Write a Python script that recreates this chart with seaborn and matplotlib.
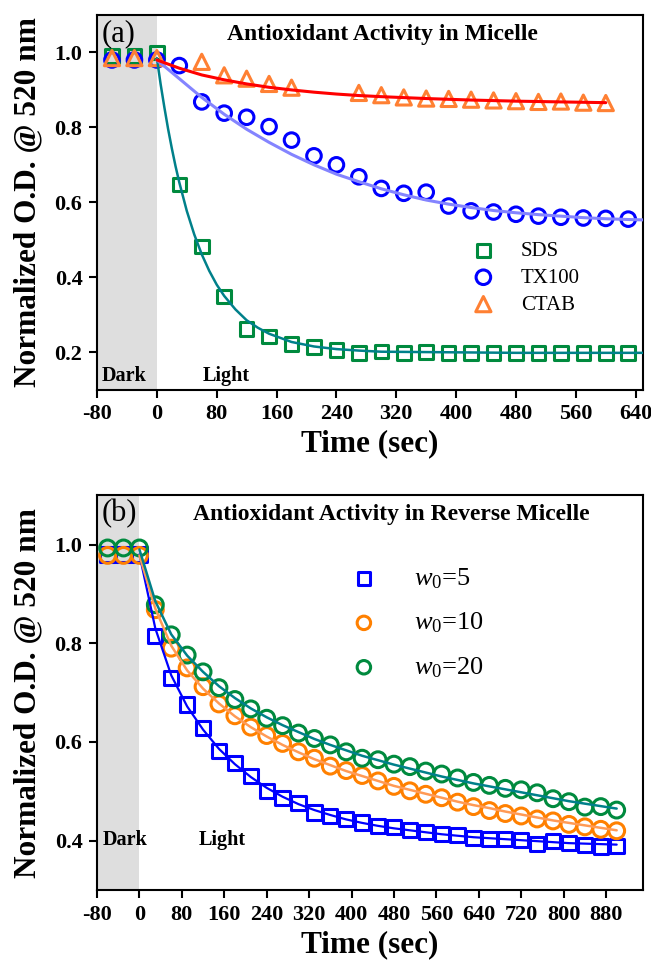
import matplotlib
matplotlib.use("Agg")
import matplotlib.pyplot as plt
import numpy as np
import seaborn as sns

# ---- panel (a): micelle ----
t_mic = [-60, -30, 0] + list(range(30, 631, 30))
sds = [0.99, 0.99, 1.0, 0.648, 0.482, 0.348, 0.262, 0.242, 0.222, 0.213, 0.206, 0.198,
       0.202, 0.198, 0.2, 0.198, 0.198, 0.197, 0.198, 0.198, 0.197, 0.198, 0.197, 0.198]
tx100 = [0.98, 0.98, 0.98, 0.965, 0.868, 0.838, 0.827, 0.802, 0.766, 0.724, 0.70, 0.668,
         0.637, 0.624, 0.627, 0.59, 0.577, 0.574, 0.568, 0.563, 0.56, 0.558, 0.557, 0.555]
t_ctab = [-60, -30, 0, 60, 90, 120, 150, 180, 270, 300, 330, 360, 390, 420, 450, 480,
          510, 540, 570, 600]
ctab = [0.985, 0.985, 0.985, 0.975, 0.939, 0.93, 0.916, 0.906, 0.892, 0.886, 0.88, 0.877,
        0.876, 0.874, 0.872, 0.87, 0.868, 0.869, 0.866, 0.865]

# fitted curves
t_sds_fit = [0, 5, 10, 15, 20, 25, 30, 40, 50, 60, 70, 80, 90, 105, 120, 135, 150, 180,
             210, 240, 270, 300, 360, 420, 480, 540, 600, 650]
sds_fit = [0.985, 0.916, 0.854, 0.796, 0.744, 0.696, 0.653, 0.577, 0.514, 0.461, 0.417,
           0.380, 0.350, 0.314, 0.285, 0.265, 0.249, 0.227, 0.215, 0.208, 0.204, 0.201,
           0.2, 0.199, 0.198, 0.198, 0.198, 0.198]
t_tx_fit = list(range(0, 631, 30)) + [650]
tx_fit = [0.98, 0.93, 0.88, 0.835, 0.795, 0.76, 0.728, 0.70, 0.675, 0.655, 0.636, 0.62,
          0.606, 0.595, 0.586, 0.578, 0.572, 0.567, 0.563, 0.559, 0.556, 0.554, 0.553]
t_ctab_fit = [0, 30, 60, 90, 120, 150, 180, 210, 240, 270, 300, 360, 420, 480, 540, 600]
ctab_fit = [0.98, 0.958, 0.94, 0.927, 0.916, 0.907, 0.90, 0.894, 0.889, 0.885, 0.882,
            0.877, 0.873, 0.87, 0.868, 0.866]

# ---- panel (b): reverse micelle ----
t_rev = [-60, -30, 0] + list(range(30, 901, 30))
w5 = [0.98, 0.98, 0.98, 0.815, 0.73, 0.676, 0.628, 0.582, 0.557, 0.531, 0.5, 0.487, 0.477,
      0.457, 0.45, 0.444, 0.437, 0.43, 0.427, 0.421, 0.417, 0.414, 0.412, 0.405, 0.404,
      0.403, 0.402, 0.394, 0.4, 0.396, 0.391, 0.388, 0.389]
w10 = [0.978, 0.978, 0.978, 0.868, 0.79, 0.75, 0.712, 0.677, 0.653, 0.63, 0.613, 0.597,
       0.58, 0.567, 0.551, 0.542, 0.532, 0.521, 0.51, 0.501, 0.494, 0.487, 0.478, 0.469,
       0.461, 0.455, 0.45, 0.444, 0.44, 0.433, 0.428, 0.423, 0.42]
w20 = [0.993, 0.993, 0.993, 0.878, 0.817, 0.776, 0.742, 0.71, 0.686, 0.667, 0.648, 0.633,
       0.618, 0.607, 0.594, 0.58, 0.567, 0.564, 0.555, 0.55, 0.541, 0.535, 0.527, 0.518,
       0.512, 0.506, 0.503, 0.497, 0.485, 0.479, 0.468, 0.469, 0.462]

t_rev_fit = list(range(0, 901, 30))
w5_fit = [0.98, 0.83, 0.735, 0.672, 0.625, 0.586, 0.555, 0.529, 0.507, 0.489, 0.474, 0.462,
          0.452, 0.443, 0.436, 0.43, 0.425, 0.421, 0.417, 0.413, 0.41, 0.407, 0.405, 0.403,
          0.401, 0.399, 0.397, 0.395, 0.394, 0.393, 0.392]
w10_fit = [0.978, 0.87, 0.795, 0.745, 0.708, 0.678, 0.652, 0.63, 0.611, 0.594, 0.579, 0.565,
           0.553, 0.541, 0.531, 0.521, 0.511, 0.503, 0.495, 0.487, 0.479, 0.472, 0.466,
           0.459, 0.453, 0.447, 0.441, 0.436, 0.431, 0.426, 0.421]
w20_fit = [0.99, 0.885, 0.818, 0.775, 0.742, 0.713, 0.689, 0.668, 0.65, 0.634, 0.62, 0.606,
           0.594, 0.583, 0.572, 0.563, 0.554, 0.546, 0.538, 0.53, 0.523, 0.516, 0.51, 0.504,
           0.498, 0.492, 0.486, 0.48, 0.475, 0.47, 0.465]

sns.set_theme(style="ticks")
plt.rcParams["font.family"] = ["Liberation Serif", "DejaVu Serif"]
plt.rcParams["mathtext.fontset"] = "custom"
plt.rcParams["mathtext.rm"] = "Liberation Serif"
plt.rcParams["mathtext.it"] = "Liberation Serif:italic"
plt.rcParams["axes.unicode_minus"] = False
for key in ["text.color", "axes.labelcolor", "xtick.color", "ytick.color",
            "xtick.labelcolor", "ytick.labelcolor"]:
    plt.rcParams[key] = "black"

fig = plt.figure(figsize=(6.51, 9.69), dpi=100)
ax1 = fig.add_axes([0.149, 0.598, 0.839, 0.3865])
ax2 = fig.add_axes([0.149, 0.0815, 0.839, 0.4075])


def pts(ax, x, y, color, marker, size, label=None):
    sns.scatterplot(x=x, y=y, ax=ax, marker=marker, s=size, facecolor="none",
                    edgecolor=color, linewidth=2.2, label=label, zorder=2)


def fit(ax, x, y, color, lw=1.8):
    sns.lineplot(x=x, y=y, ax=ax, color=color, lw=lw, estimator=None, sort=False,
                 zorder=3)


def style(ax, xmax, xticks, yticks, ylim, title, tx, ty, letter):
    ax.axvspan(-80, 0, color="#dedede", lw=0, zorder=0)
    ax.set_xlim(-80, xmax)
    ax.set_ylim(*ylim)
    ax.set_xticks(xticks)
    ax.set_yticks(yticks)
    ax.set_yticklabels([f"{v:.1f}" for v in yticks])
    for sp in ax.spines.values():
        sp.set_linewidth(1.5)
        sp.set_color("black")
    ax.tick_params(direction="out", length=5.5, width=1.5, labelsize=16, pad=5,
                   top=False, right=False)
    for lab in ax.get_xticklabels() + ax.get_yticklabels():
        lab.set_fontweight("bold")
    ax.set_xlabel("Time (sec)", fontsize=22.5, fontweight="bold", labelpad=4)
    ax.set_ylabel("Normalized O.D. @ 520 nm", fontsize=22.5, fontweight="bold")
    ax.yaxis.set_label_coords(-0.1, 0.5)
    ax.text(tx, ty, title, fontsize=17, fontweight="bold", ha="center", va="center")
    ax.text(0.008, 0.99, letter, transform=ax.transAxes, fontsize=22,
            ha="left", va="top")


# panel (a)
pts(ax1, t_mic, sds, "#008a3e", "s", 95, "SDS")
pts(ax1, t_mic, tx100, "#0000ff", "o", 110, "TX100")
pts(ax1, t_ctab, ctab, "#ff8033", "^", 120, "CTAB")
fit(ax1, t_sds_fit, sds_fit, "#00808a")
fit(ax1, t_tx_fit, tx_fit, "#8484ff", 2.2)
fit(ax1, t_ctab_fit, ctab_fit, "#ff0000", 2.2)
style(ax1, 650, range(-80, 641, 80), [0.2, 0.4, 0.6, 0.8, 1.0], (0.1, 1.1),
      "Antioxidant Activity in Micelle", 301, 1.048, "(a)")
ax1.text(-44, 0.135, "Dark", fontsize=14.5, fontweight="bold", ha="center", va="center")
ax1.text(93, 0.135, "Light", fontsize=14.5, fontweight="bold", ha="center", va="center")
ax1.legend(loc="center left", bbox_to_anchor=(0.654, 0.298), frameon=False,
           fontsize=15, labelspacing=0.35, borderaxespad=0, handletextpad=0.8)

# panel (b)
pts(ax2, t_rev, w5, "#0000ff", "s", 105, r"$w_0$=5")
pts(ax2, t_rev, w10, "#ff8000", "o", 130, r"$w_0$=10")
pts(ax2, t_rev, w20, "#008a3e", "o", 130, r"$w_0$=20")
fit(ax2, t_rev_fit, w5_fit, "#0000ff", 1.6)
fit(ax2, t_rev_fit, w10_fit, "#ff9a55", 1.8)
fit(ax2, t_rev_fit, w20_fit, "#00808a", 1.8)
style(ax2, 950, range(-80, 881, 80), [0.4, 0.6, 0.8, 1.0], (0.3, 1.1),
      "Antioxidant Activity in Reverse Micelle", 475, 1.06, "(b)")
ax2.text(-28, 0.402, "Dark", fontsize=14.5, fontweight="bold", ha="center", va="center")
ax2.text(157, 0.402, "Light", fontsize=14.5, fontweight="bold", ha="center", va="center")
ax2.legend(loc="center left", bbox_to_anchor=(0.421, 0.676), frameon=False,
           fontsize=19, labelspacing=0.75, borderaxespad=0, handletextpad=0.9,
           markerscale=0.85)

fig.savefig("out.png", dpi=100)
